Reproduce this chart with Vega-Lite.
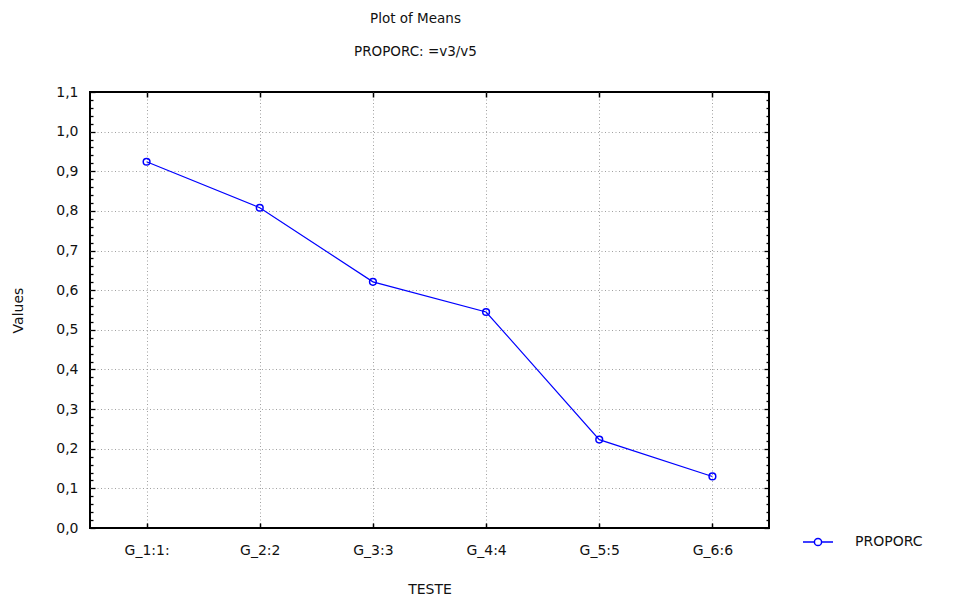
{
  "$schema": "https://vega.github.io/schema/vega-lite/v6.json",
  "width": 679,
  "height": 436,
  "autosize": {"type": "none"},
  "padding": {"left": 90, "top": 92, "right": 186, "bottom": 71},
  "background": "white",
  "title": {
    "text": "Plot of Means",
    "subtitle": "PROPORC: =v3/v5",
    "anchor": "middle",
    "dx": -14,
    "offset": 27,
    "font": "DejaVu Sans",
    "fontSize": 13.5,
    "fontWeight": "normal",
    "color": "#111",
    "subtitleFont": "DejaVu Sans",
    "subtitleFontSize": 13.5,
    "subtitleColor": "#111",
    "subtitlePadding": 19
  },
  "data": {
    "values": [
      {"TESTE": "G_1:1:", "v": 0.924, "series": "PROPORC"},
      {"TESTE": "G_2:2", "v": 0.808, "series": "PROPORC"},
      {"TESTE": "G_3:3", "v": 0.621, "series": "PROPORC"},
      {"TESTE": "G_4:4", "v": 0.545, "series": "PROPORC"},
      {"TESTE": "G_5:5", "v": 0.223, "series": "PROPORC"},
      {"TESTE": "G_6:6", "v": 0.130, "series": "PROPORC"}
    ]
  },
  "layer": [
    {
      "mark": {"type": "line", "color": "#0000ff", "strokeWidth": 1.2},
      "encoding": {
        "x": {
          "field": "TESTE", "type": "ordinal", "sort": null,
          "scale": {"type": "point", "padding": 0.5},
          "axis": {
            "orient": "bottom", "title": "TESTE", "labelAngle": 0,
            "domain": false, "grid": true, "gridColor": "#a0a0a0", "gridDash": [1, 2.5], "gridWidth": 1,
            "tickSize": -5, "tickColor": "#000", "tickWidth": 1.5,
            "labelPadding": 20, "labelFont": "DejaVu Sans", "labelFontSize": 14, "labelColor": "#111",
            "titleFont": "DejaVu Sans", "titleFontSize": 14, "titleFontWeight": "normal", "titleColor": "#111", "titlePadding": 25
          }
        },
        "y": {
          "field": "v", "type": "quantitative",
          "scale": {"domain": [0, 1.1], "nice": false, "zero": true},
          "axis": {
            "orient": "left", "title": "Values",
            "values": [0,0.02,0.04,0.06,0.08,0.1,0.12,0.14,0.16,0.18,0.2,0.22,0.24,0.26,0.28,0.3,0.32,0.34,0.36,0.38,0.4,0.42,0.44,0.46,0.48,0.5,0.52,0.54,0.56,0.58,0.6,0.62,0.64,0.66,0.68,0.7,0.72,0.74,0.76,0.78,0.8,0.82,0.84,0.86,0.88,0.9,0.92,0.94,0.96,0.98,1.0,1.02,1.04,1.06,1.08,1.1],
            "labelExpr": "abs(datum.value*10 - round(datum.value*10)) < 0.001 ? replace(format(datum.value, '.1f'), '.', ',') : ''",
            "domain": false,
            "grid": true, "gridColor": "#a0a0a0", "gridDash": [1, 2.5], "gridWidth": 1,
            "gridOpacity": {"condition": {"test": "abs(datum.value*10 - round(datum.value*10)) < 0.001 && datum.value > 0.05 && datum.value < 1.05", "value": 1}, "value": 0},
            "tickSize": {"condition": {"test": "abs(datum.value*10 - round(datum.value*10)) < 0.001", "value": -5}, "value": -3},
            "tickColor": "#000", "tickWidth": 1.3,
            "labelPadding": 17, "labelFont": "DejaVu Sans", "labelFontSize": 14, "labelColor": "#111",
            "labelOverlap": false, "labelFlush": false,
            "titleFont": "DejaVu Sans", "titleFontSize": 14, "titleFontWeight": "normal", "titleColor": "#111", "titlePadding": 30
          }
        }
      }
    },
    {
      "mark": {"type": "point", "filled": false, "size": 45, "strokeWidth": 1.5, "opacity": 1},
      "encoding": {
        "x": {
          "field": "TESTE", "type": "ordinal", "sort": null,
          "axis": {"orient": "top", "title": null, "labels": false, "domain": false, "grid": false, "tickSize": -5, "tickColor": "#000", "tickWidth": 1.5}
        },
        "y": {
          "field": "v", "type": "quantitative",
          "axis": {
            "orient": "right", "title": null, "labels": false, "domain": false, "grid": false,
            "values": [0,0.02,0.04,0.06,0.08,0.1,0.12,0.14,0.16,0.18,0.2,0.22,0.24,0.26,0.28,0.3,0.32,0.34,0.36,0.38,0.4,0.42,0.44,0.46,0.48,0.5,0.52,0.54,0.56,0.58,0.6,0.62,0.64,0.66,0.68,0.7,0.72,0.74,0.76,0.78,0.8,0.82,0.84,0.86,0.88,0.9,0.92,0.94,0.96,0.98,1.0,1.02,1.04,1.06,1.08,1.1],
            "tickSize": {"condition": {"test": "abs(datum.value*10 - round(datum.value*10)) < 0.001", "value": -5}, "value": -3},
            "tickColor": "#000", "tickWidth": 1.3
          }
        },
        "color": {
          "field": "series", "type": "nominal",
          "scale": {"range": ["#0000ff"]},
          "legend": {
            "title": null, "orient": "none", "legendX": 712, "legendY": 434,
            "padding": 0,
            "symbolType": "M-1,0H-0.24M0.24,0H1M-0.24,0A0.24,0.24,0,1,1,0.24,0A0.24,0.24,0,1,1,-0.24,0Z",
            "symbolSize": 900, "symbolStrokeWidth": 1.5, "symbolFillColor": "white", "symbolStrokeColor": "#0000ff",
            "labelOffset": 21, "labelFont": "DejaVu Sans", "labelFontSize": 14, "labelColor": "#111"
          }
        }
      }
    }
  ],
  "resolve": {"axis": {"x": "independent", "y": "independent"}},
  "config": {
    "view": {"stroke": "#000", "strokeWidth": 2}
  }
}
